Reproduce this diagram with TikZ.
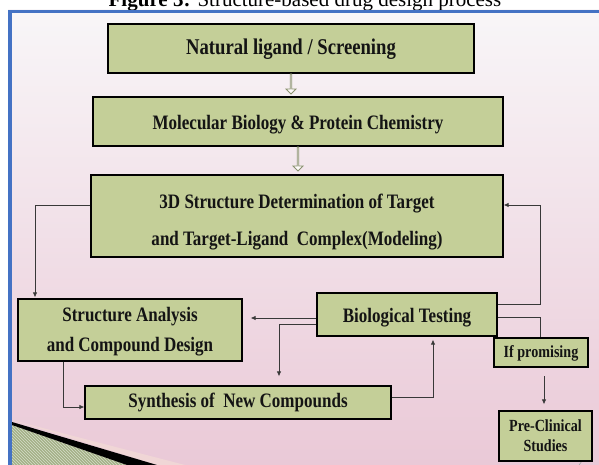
\documentclass[tikz,border=0pt]{standalone}
\usepackage{fontspec}
\setmainfont{Liberation Serif}
\newfontfamily\boxfont[FakeStretch=0.83]{Liberation Serif}
\usetikzlibrary{arrows.meta,shapes.arrows,patterns,calc}

\definecolor{boxgreen}{HTML}{C4CF98}
\definecolor{frameblue}{HTML}{4472C4}
\definecolor{bgtop}{HTML}{F8F6F8}
\definecolor{bgbot}{HTML}{EAC9D7}
\definecolor{linegray}{HTML}{383838}
\definecolor{hollowedge}{HTML}{8A9270}
\definecolor{stripegreen}{HTML}{A3B187}
\definecolor{inktext}{HTML}{141414}

\tikzset{
  stagebox/.style={draw=black, line width=1.2pt, fill=boxgreen, inner sep=0pt},
  boxtext/.style={inner sep=0pt, align=center, text=inktext},
  fs/.style 2 args={font=\boxfont\bfseries\fontsize{#1}{#2}\selectfont},
  conn/.style={draw=linegray, line width=0.8pt},
  tip/.style={-{Latex[length=5pt,width=4.5pt]}},
  hollow/.style={single arrow, draw=hollowedge, fill=white!92!pink, line width=0.8pt,
                 shape border rotate=270, minimum width=10pt,
                 single arrow head extend=2.5pt, inner sep=0pt}
}

\begin{document}
\begin{tikzpicture}[x=1pt,y=-1pt]
\useasboundingbox (0,0) rectangle (599,465);
\clip (0,0) rectangle (599,465);

% page and slide background
\fill[white] (0,0) rectangle (599,465);
\shade[top color=bgtop, bottom color=bgbot] (8,10) rectangle (599,465);

% caption
\node[anchor=base, font=\fontsize{21}{25}\selectfont, inner sep=0pt] (cap) at (305,7)
  {\textbf{Figure 3:} Structure-based drug design process};

% slide frame
\fill[frameblue] (8,10) rectangle (599,13);
\fill[frameblue] (8,10) rectangle (12,465);

% bottom-left corner ornament
\fill[white!80!gray!60!pink] (12,420) -- (185,465) -- (157,465) -- cycle;
\fill[stripegreen] (12,425) -- (127,465) -- (12,465) -- cycle;
\fill[pattern=north west lines, pattern color=white!55!stripegreen] (12,425) -- (127,465) -- (12,465) -- cycle;
\fill[black] (12,422) -- (157,465) -- (127,465) -- (12,425) -- cycle;

% small mark at the lower right
\draw[gray!70, line width=0.6pt] (577,458) -- (582,461) -- (579,465);

% stage boxes
\node[stagebox, minimum width=366pt, minimum height=49pt] (b1) at (291,48.5) {};
\node[stagebox, minimum width=410pt, minimum height=49pt] (b2) at (298,121.5) {};
\node[stagebox, minimum width=412pt, minimum height=82pt] (b3) at (297,216) {};
\node[stagebox, minimum width=224pt, minimum height=62pt] (sa) at (130,330) {};
\node[stagebox, minimum width=180pt, minimum height=43pt] (bt) at (407,314.5) {};
\node[stagebox, minimum width=306pt, minimum height=33pt] (sn) at (238,402.5) {};
\node[stagebox, minimum width=94pt, minimum height=29pt] (ip) at (541,352.5) {};
\node[stagebox, minimum width=93pt, minimum height=50pt] (pc) at (545.5,436) {};

% stage labels
\node[boxtext, fs={22.5}{26}] (b1t) at ([yshift=-1pt]b1.center) {Natural ligand / Screening};
\node[boxtext, fs={20.5}{24}] (b2t) at ([yshift=-3pt]b2.center) {Molecular Biology \& Protein Chemistry};
\node[boxtext, fs={20.5}{37}] (b3t) at ([yshift=-6pt]b3.center)
  {3D Structure Determination of Target\\and Target-Ligand\ \ Complex(Modeling)};
\node[boxtext, fs={20.5}{30}] (sat) at ([yshift=-2pt]sa.center) {Structure Analysis\\and Compound\ Design};
\node[boxtext, fs={20.5}{24}] (btt) at ([yshift=-3pt]bt.center) {Biological Testing};
\node[boxtext, fs={20.5}{24}] (snt) at (sn.center) {Synthesis of\ \ New Compounds};
\node[boxtext, fs={17}{20}] (ipt) at ([yshift=-1pt]ip.center) {If promising};
\node[boxtext, fs={17}{20}] (pct) at (pc.center) {Pre-Clinical\\Studies};

% hollow arrows between the upper stages
\node[hollow, minimum height=20pt, anchor=tail] (a1) at (b1.south) {};
\node[hollow, minimum height=24pt, anchor=tail] (a2) at (b2.south) {};

% connector bends
\coordinate (lk) at (35,205);
\coordinate (rk) at (540,205);
\coordinate (rb) at (540,304);
\coordinate (ri) at (540,317);
\coordinate (ls) at (0,318);
\coordinate (ln) at (279,324);
\coordinate (sb) at (433,397);
\coordinate (as) at (63,407);
\coordinate (ipc) at (544,376);

% connectors
\draw[conn,tip,shorten >=1pt] (b3.west |- lk) -- (lk) -- (lk |- sa.north);
\draw[conn,tip] (bt.east |- rb) -- (rb) -- (rk) -- (b3.east |- rk);
\draw[conn] (bt.east |- ri) -- (ri) -- (ri |- ip.north);
\draw[conn,tip,shorten >=8pt] (bt.west |- ls) -- (sa.east |- ls);
\draw[conn,tip,shorten >=9pt] (bt.west |- ln) -- (ln) -- (ln |- sn.north);
\draw[conn,tip,shorten >=3pt] (sn.east |- sb) -- (sb) -- (sb |- bt.south);
\draw[conn,tip] (as |- sa.south) -- (as) -- (sn.west |- as);
\draw[conn,tip,shorten >=6pt] (ipc) -- (ipc |- pc.north);
\end{tikzpicture}
\end{document}
